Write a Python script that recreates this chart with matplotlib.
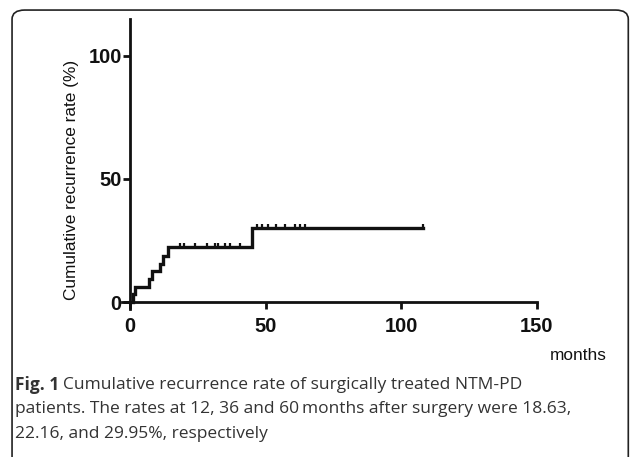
import matplotlib.pyplot as plt
from matplotlib.patches import FancyBboxPatch

# step curve (months, cumulative recurrence %)
months = [0, 1, 2, 7, 8, 11, 12, 14, 45, 108]
rate = [0, 3.1, 6.2, 9.5, 12.6, 15.5, 18.63, 22.16, 29.95, 29.95]

# censored observations
cens_t = [18.5, 20, 24, 28.3, 31.5, 32.5, 35, 37, 40.6,
          46.7, 48.5, 51, 54, 57.2, 61, 62.7, 64.6, 108]
cens_y = [22.16] * 9 + [29.95] * 9

xticks = [0, 50, 100, 150]
yticks = [0, 50, 100]

plt.rcParams['font.family'] = ['Liberation Sans', 'DejaVu Sans']

fig = plt.figure(figsize=(6.34, 4.57), dpi=100)
ax = fig.add_axes([0.1879, 0.3176, 0.6676, 0.6461])

ax.step(months, rate, where='post', color='#111111', lw=2.4, solid_joinstyle='miter')
ax.vlines(cens_t, cens_y, [v + 1.7 for v in cens_y], color='#111111', lw=1.6)

ax.set_xlim(-4, 152)
ax.set_ylim(-4, 116)
for s in ['top', 'right']:
    ax.spines[s].set_visible(False)
ax.spines['left'].set_position(('data', 0))
ax.spines['bottom'].set_position(('data', 0))
ax.spines['left'].set_bounds(-3, 115)
ax.spines['bottom'].set_bounds(-3, 150)
for s in ['left', 'bottom']:
    ax.spines[s].set_linewidth(2.0)
    ax.spines[s].set_color('#111111')

ax.set_xticks(xticks)
ax.set_yticks(yticks)
ax.tick_params(length=5, width=2, color='#111111', labelsize=14.5)
ax.tick_params(axis='x', pad=6)
ax.tick_params(axis='y', pad=1)
for lb in ax.get_xticklabels() + ax.get_yticklabels():
    lb.set_fontweight('bold')
    lb.set_color('#111111')

fig.text(0.112, 0.606, 'Cumulative recurrence rate (%)', rotation=90,
         ha='center', va='center', fontsize=12.4, color='#111111')
fig.text(0.912, 0.222, 'months', ha='center', va='center', fontsize=12.4, color='#111111')

# caption
cap_font = ['Open Sans', 'DejaVu Sans']
cap_col = '#333333'
fig.text(0.024, 0.158, 'Fig. 1', fontsize=12.5, fontweight='bold', family=cap_font,
         color=cap_col, va='center')
fig.text(0.099, 0.158, 'Cumulative recurrence rate of surgically treated NTM-PD',
         fontsize=12.5, family=cap_font, color=cap_col, va='center')
fig.text(0.024, 0.104, 'patients. The rates at 12, 36 and 60\u2009months after surgery were 18.63,',
         fontsize=12.5, family=cap_font, color=cap_col, va='center')
fig.text(0.024, 0.050, '22.16, and 29.95%, respectively',
         fontsize=12.5, family=cap_font, color=cap_col, va='center')

# rounded frame around the figure
box = FancyBboxPatch((0.019, -0.1), 0.972, 1.078, boxstyle='round,pad=0,rounding_size=0.02',
                     transform=fig.transFigure, fill=False, lw=1.2, ec='#222222')
fig.patches.append(box)

fig.savefig('out.png', dpi=100)
